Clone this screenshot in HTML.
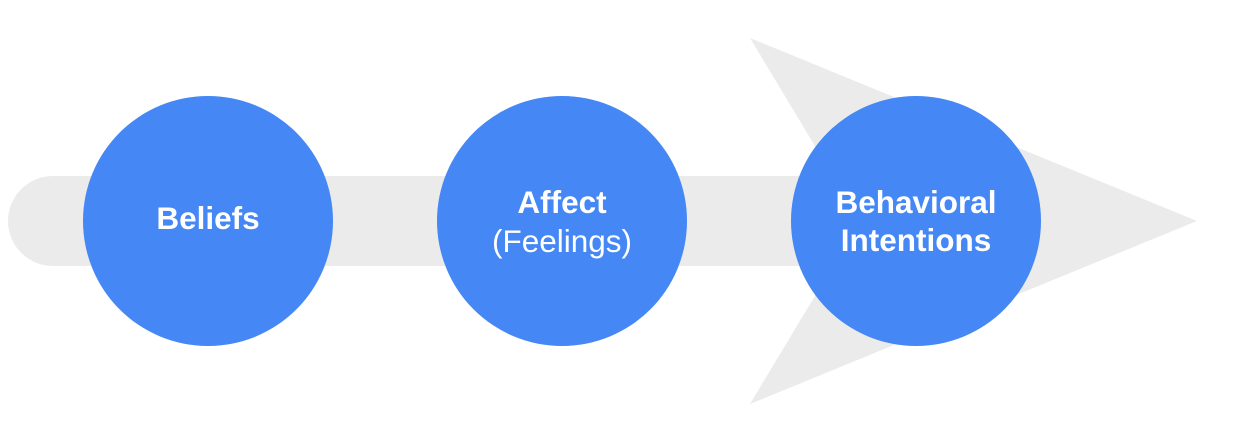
<!DOCTYPE html>
<html><head><meta charset="utf-8"><style>
html,body{margin:0;padding:0;background:#fff;}
</style></head><body>
<svg width="1250" height="443" viewBox="0 0 1250 443" xmlns="http://www.w3.org/2000/svg">
<rect x="8" y="176" width="900" height="90" rx="45" fill="#ebebeb"/>
<polygon points="750,38 1197,221 750,404 860,221" fill="#ebebeb"/>
<circle cx="208" cy="221" r="125" fill="#4487f5"/>
<circle cx="562" cy="221" r="125" fill="#4487f5"/>
<circle cx="916" cy="221" r="125" fill="#4487f5"/>
<g font-family="Liberation Sans, sans-serif" fill="#fff" text-anchor="middle" font-size="31.5">
<text x="208" y="229" font-weight="bold">Beliefs</text>
<text x="562" y="213" font-weight="bold">Affect</text>
<text x="562" y="252">(Feelings)</text>
<text x="916" y="213" font-weight="bold">Behavioral</text>
<text x="916" y="251" font-weight="bold">Intentions</text>
</g>
</svg>
</body></html>
